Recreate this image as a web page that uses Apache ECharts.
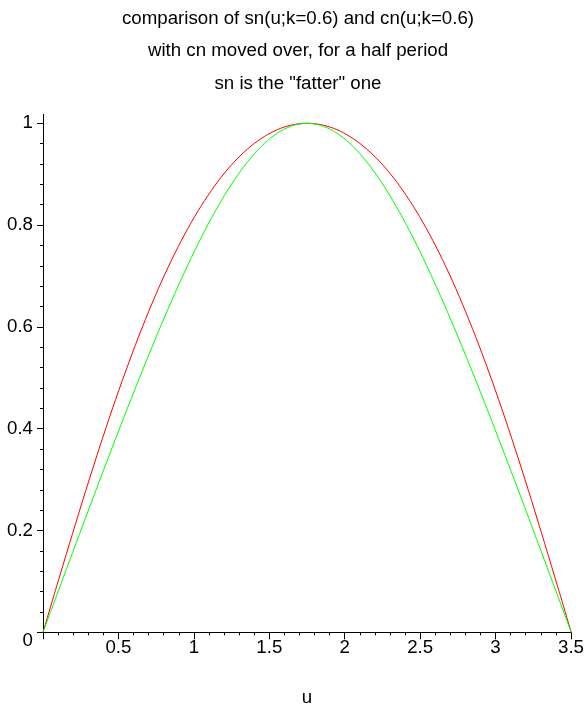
<!DOCTYPE html>
<html>
<head>
<meta charset="utf-8">
<script src="https://cdn.jsdelivr.net/npm/echarts@6/dist/echarts.min.js"></script>
<style>
  html, body { margin: 0; padding: 0; background: #fff; }
  #chart { width: 584px; height: 707px; }
</style>
</head>
<body>
<div id="chart"></div>
<script>
// 标题文字
const titleLines = [
    'comparison of sn(u;k=0.6) and cn(u;k=0.6)',
    'with cn moved over, for a half period',
    'sn is the "fatter" one'
];

// u 取值 (0 到 2K)
const uValues = [
    0, 0.0875, 0.1751, 0.2626, 0.3502, 0.4377, 0.5252, 0.6128, 0.7003, 0.7878,
    0.8754, 0.9629, 1.0505, 1.1380, 1.2255, 1.3131, 1.4006, 1.4881, 1.5757, 1.6632,
    1.7508, 1.8383, 1.9258, 2.0134, 2.1009, 2.1884, 2.2760, 2.3635, 2.4511, 2.5386,
    2.6261, 2.7137, 2.8012, 2.8887, 2.9763, 3.0638, 3.1514, 3.2389, 3.3264, 3.4140,
    3.5015
];

// sn(u;k=0.6) 红线
const snValues = [
    0, 0.0874, 0.1738, 0.2585, 0.3407, 0.4195, 0.4943, 0.5647, 0.6302, 0.6905,
    0.7454, 0.7948, 0.8387, 0.8772, 0.9102, 0.9379, 0.9604, 0.9778, 0.9902, 0.9976,
    1.0000, 0.9976, 0.9902, 0.9778, 0.9604, 0.9379, 0.9102, 0.8772, 0.8387, 0.7948,
    0.7454, 0.6905, 0.6302, 0.5647, 0.4943, 0.4195, 0.3407, 0.2585, 0.1738, 0.0874,
    0
];

// cn(u-K;k=0.6) 绿线
const cnValues = [
    0, 0.0700, 0.1398, 0.2094, 0.2784, 0.3467, 0.4141, 0.4801, 0.5445, 0.6069,
    0.6667, 0.7234, 0.7765, 0.8253, 0.8693, 0.9077, 0.9402, 0.9660, 0.9848, 0.9962,
    1.0000, 0.9962, 0.9848, 0.9660, 0.9402, 0.9077, 0.8693, 0.8253, 0.7765, 0.7234,
    0.6667, 0.6069, 0.5445, 0.4801, 0.4141, 0.3467, 0.2784, 0.2094, 0.1398, 0.0700,
    0
];

const FONT = 'Liberation Sans';
const FS = 18.7;

function pairs(xs, ys) {
    return xs.map((x, i) => [x, ys[i]]);
}

const chart = echarts.init(document.getElementById('chart'), null, { renderer: 'canvas' });

chart.setOption({
    backgroundColor: '#fff',
    animation: false,
    graphic: titleLines.map((t, i) => ({
        type: 'text',
        x: 298,
        y: 19 + i * 32.3,
        style: {
            text: t,
            fontFamily: FONT,
            fontSize: FS,
            fill: '#000',
            align: 'center',
            verticalAlign: 'middle'
        }
    })).concat([{
        // y 轴在 1 上方略微延长
        type: 'line',
        shape: { x1: 43.5, y1: 114, x2: 43.5, y2: 124 },
        style: { stroke: '#000', lineWidth: 1 }
    }]),
    grid: {
        left: 43,
        right: 13,
        top: 123.3,
        bottom: 74.7,
        outerBoundsMode: 'none'
    },
    xAxis: {
        type: 'value',
        min: 0,
        max: 3.5,
        interval: 0.5,
        name: 'u',
        nameLocation: 'middle',
        nameGap: 56,
        nameTextStyle: { fontFamily: FONT, fontSize: FS, color: '#000' },
        axisLine: { onZero: false, lineStyle: { color: '#000', width: 1 } },
        axisTick: { inside: false, length: 7, lineStyle: { color: '#000' } },
        minorTick: { show: true, splitNumber: 5, length: 3, lineStyle: { color: '#000' } },
        splitLine: { show: false },
        axisLabel: {
            showMinLabel: false,
            margin: 6,
            fontFamily: FONT,
            fontSize: FS,
            color: '#000'
        }
    },
    yAxis: {
        type: 'value',
        min: 0,
        max: 1,
        interval: 0.2,
        axisLine: { show: true, onZero: false, lineStyle: { color: '#000', width: 1 } },
        axisTick: { show: true, inside: false, length: 6, lineStyle: { color: '#000' } },
        minorTick: { show: true, splitNumber: 5, length: 3, lineStyle: { color: '#000' } },
        splitLine: { show: false },
        axisLabel: {
            margin: 10,
            fontFamily: FONT,
            fontSize: FS,
            color: '#000',
            formatter: v => (v === 0 ? '{z|0}' : String(+v.toFixed(1))),
            rich: {
                z: { fontFamily: FONT, fontSize: FS, color: '#000', padding: [18, 0, 0, 0] }
            }
        }
    },
    series: [
        {
            name: 'sn',
            type: 'line',
            data: pairs(uValues, snValues),
            showSymbol: false,
            smooth: 0.3,
            clip: false,
            lineStyle: { color: '#ff0000', width: 1 }
        },
        {
            name: 'cn',
            type: 'line',
            data: pairs(uValues, cnValues),
            showSymbol: false,
            smooth: 0.3,
            clip: false,
            lineStyle: { color: '#00ff00', width: 1 }
        }
    ]
});
</script>
</body>
</html>
